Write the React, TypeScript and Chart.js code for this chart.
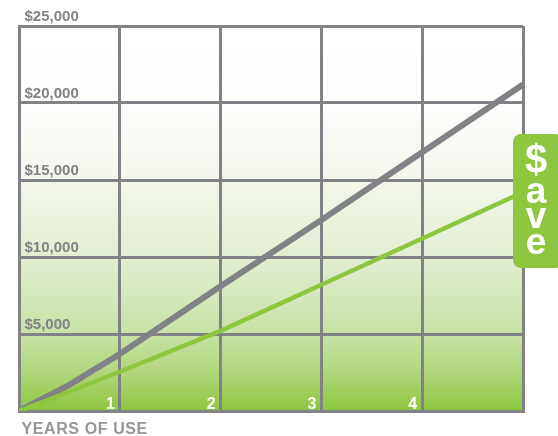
import React, { useEffect, useRef } from "react";
import { Chart, registerables } from "chart.js";

Chart.register(...registerables);

const years = [0, 0.5, 1, 2, 3, 4, 5];
const grayCost = [0, 1700, 3700, 8100, 12400, 16800, 21200];
const greenCost = [0, 1250, 2550, 5200, 8200, 11200, 14200];
const yTickLabels = ["$5,000", "$10,000", "$15,000", "$20,000", "$25,000"];
const yTickValues = [5000, 10000, 15000, 20000, 25000];
const xTickLabels = ["1", "2", "3", "4"];
const xTickValues = [1, 2, 3, 4];
const xAxisTitle = "YEARS OF USE";
const badgeLetters = ["$", "a", "v", "e"];

const GRAY = "#808285";
const GREEN = "#8dc63f";
const FONT = "'Liberation Sans', Arial, Helvetica, sans-serif";

const decorPlugin = {
  id: "decor",
  beforeDraw(chart: any) {
    const { ctx, chartArea } = chart;
    const { left, right, top, bottom } = chartArea;
    const g = ctx.createLinearGradient(0, top, 0, bottom);
    g.addColorStop(0, "#ffffff");
    g.addColorStop(0.2, "#fdfdfc");
    g.addColorStop(0.4, "#f3f7ec");
    g.addColorStop(0.6, "#e2eed2");
    g.addColorStop(0.8, "#c8e2a5");
    g.addColorStop(0.9, "#b0d67c");
    g.addColorStop(1, "#8cc63f");
    ctx.save();
    ctx.fillStyle = g;
    ctx.fillRect(left, top, right - left, bottom - top);
    ctx.restore();
  },
  afterDatasetsDraw(chart: any) {
    const { ctx, chartArea, scales } = chart;
    const xs = scales.x;
    const ys = scales.y;
    ctx.save();
    // y labels
    ctx.font = `bold 15px ${FONT}`;
    ctx.fillStyle = GRAY;
    ctx.textAlign = "left";
    ctx.textBaseline = "alphabetic";
    yTickValues.forEach((v, i) => {
      const py = ys.getPixelForValue(v);
      ctx.fillText(yTickLabels[i], chartArea.left + 5.5, py - 5);
    });
    // x labels
    ctx.font = `bold 16px ${FONT}`;
    ctx.fillStyle = "#ffffff";
    ctx.textAlign = "right";
    xTickValues.forEach((v, i) => {
      const px = xs.getPixelForValue(v);
      ctx.fillText(xTickLabels[i], px - 5, chartArea.bottom - 2.5);
    });
    // axis title
    ctx.font = `bold 16px ${FONT}`;
    ctx.fillStyle = "#939598";
    ctx.textAlign = "left";
    try { (ctx as any).letterSpacing = "0.6px"; } catch (e) {}
    ctx.fillText(xAxisTitle, chartArea.left + 2.5, chartArea.bottom + 22.5);
    try { (ctx as any).letterSpacing = "0px"; } catch (e) {}
    // badge
    const bx = 513, by = 134, bw = 50, bh = 134, r = 8;
    ctx.fillStyle = GREEN;
    ctx.beginPath();
    ctx.moveTo(bx + r, by);
    ctx.lineTo(bx + bw - r, by);
    ctx.arcTo(bx + bw, by, bx + bw, by + r, r);
    ctx.lineTo(bx + bw, by + bh - r);
    ctx.arcTo(bx + bw, by + bh, bx + bw - r, by + bh, r);
    ctx.lineTo(bx + r, by + bh);
    ctx.arcTo(bx, by + bh, bx, by + bh - r, r);
    ctx.lineTo(bx, by + r);
    ctx.arcTo(bx, by, bx + r, by, r);
    ctx.closePath();
    ctx.fill();
    ctx.fillStyle = "#ffffff";
    ctx.textAlign = "center";
    ctx.font = `bold 40px ${FONT}`;
    ctx.fillText(badgeLetters[0], 536, 173);
    ctx.font = `bold 37px ${FONT}`;
    ctx.fillText(badgeLetters[1], 536, 203);
    ctx.fillText(badgeLetters[2], 536, 228);
    ctx.fillText(badgeLetters[3], 536, 254);
    ctx.restore();
  },
};

export default function App() {
  const ref = useRef<HTMLCanvasElement>(null);
  useEffect(() => {
    if (!ref.current) return;
    const chart = new Chart(ref.current, {
      type: "line",
      data: {
        datasets: [
          {
            label: "Green",
            data: years.map((x, i) => ({ x, y: greenCost[i] })),
            borderColor: GREEN,
            borderWidth: 4.5,
            pointRadius: 0,
            tension: 0,
            borderCapStyle: "butt",
          },
          {
            label: "Gray",
            data: years.map((x, i) => ({ x, y: grayCost[i] })),
            borderColor: GRAY,
            borderWidth: 6,
            pointRadius: 0,
            tension: 0,
            borderCapStyle: "butt",
          },
        ],
      },
      options: {
        animation: false,
        responsive: false,
        devicePixelRatio: 1,
        layout: { padding: { left: 19, right: 35, top: 26, bottom: 25 } },
        plugins: { legend: { display: false }, tooltip: { enabled: false } },
        scales: {
          x: {
            type: "linear",
            min: 0,
            max: 5,
            ticks: { display: false, stepSize: 1 },
            grid: { color: GRAY, lineWidth: 3, drawTicks: false },
            border: { display: true, color: GRAY, width: 3 },
          },
          y: {
            min: 0,
            max: 25000,
            ticks: { display: false, stepSize: 5000 },
            grid: { color: GRAY, lineWidth: 3, drawTicks: false },
            border: { display: true, color: GRAY, width: 3 },
          },
        },
      },
      plugins: [decorPlugin],
    });
    return () => chart.destroy();
  }, []);
  return (
    <div style={{ position: "absolute", left: 0, top: 0, width: 558, height: 436, background: "#fff" }}>
      <canvas ref={ref} width={558} height={436} style={{ display: "block" }} />
    </div>
  );
}
